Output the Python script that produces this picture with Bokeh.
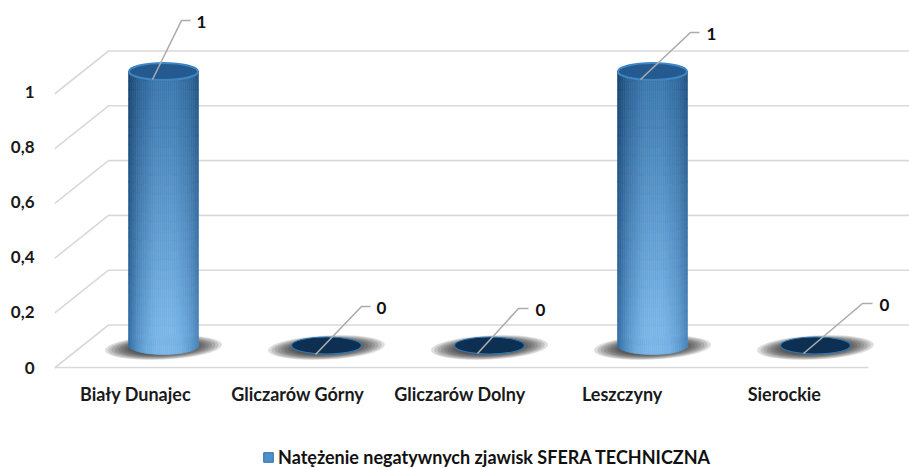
from bokeh.plotting import figure
from bokeh.embed import file_html
from bokeh.resources import INLINE
from bokeh.models import Range1d, LinearAxis, FixedTicker, Legend, LegendItem
from bokeh.core.properties import value

categories = ["Biały Dunajec", "Gliczarów Górny", "Gliczarów Dolny", "Leszczyny", "Sierockie"]
values = [1, 0, 0, 1, 0]
tick_values = [0, 0.2, 0.4, 0.6, 0.8, 1]
tick_labels = ["0", "0,2", "0,4", "0,6", "0,8", "1"]
series_name = "Natężenie negatywnych zjawisk SFERA TECHNICZNA"

FONT = "Lato"
W, H = 909, 468
X0, XSTEP = 163.0, 163.0     # x of first category, spacing
Y0, YUNIT = 345.0, 274.0     # y of the cylinder base, pixels per unit of value
FL, FR, FT, FB = 54, W, 0, H
FLOOR = 367

px = lambda x: (x - X0) / XSTEP
py = lambda y: (Y0 - y) / YUNIT

p = figure(width=W, height=H, output_backend="svg", toolbar_location=None,
           x_range=Range1d(px(FL), px(FR)), y_range=Range1d(py(FB), py(FT)),
           x_axis_location=None, y_axis_location=None,
           min_border_left=FL, min_border_right=0, min_border_top=0,
           min_border_bottom=0, outline_line_color=None,
           background_fill_color="white", border_fill_color="white")
p.grid.visible = False

p.extra_y_ranges["front"] = Range1d((FLOOR - FB) / 275.5, (FLOOR - FT) / 275.5)
ya = LinearAxis(y_range_name="front", ticker=FixedTicker(ticks=tick_values),
                major_label_overrides=dict(zip(tick_values, tick_labels)))
ya.axis_line_color = None
ya.major_tick_line_color = None
ya.minor_tick_line_color = None
ya.major_label_text_font = FONT
ya.major_label_text_font_style = "bold"
ya.major_label_text_color = "#1a1a1a"
ya.major_label_text_font_size = "17px"
ya.major_label_standoff = 14
p.add_layout(ya, "left")

GRID = "#d9d9d9"
back = (Y0 - 324.5) / YUNIT
front_dx, front_dy = 54, 43
xs, ys = [], []
for v in tick_values:
    yb = v + back
    xs.append([px(FL), px(FL + front_dx), px(FR)])
    ys.append([yb - front_dy / YUNIT, yb, yb])
xs.append([px(FL), px(868)])
ys.append([py(FLOOR), py(FLOOR)])
p.multi_line(xs, ys, line_color=GRID, line_width=1.6)

for i, v in enumerate(values):
    steps = 9
    for s in range(steps):
        f = 1 - s / steps * 0.5
        p.ellipse(x=i, y=py(347), width=117 * f, height=24 * f, width_units="screen",
                  height_units="screen", angle=0.05, fill_color="#222222",
                  fill_alpha=0.15, line_color=None)

def mix(a, b, k):
    return tuple(a[j] + (b[j] - a[j]) * k for j in range(3))

def hexc(c):
    return "#%02x%02x%02x" % tuple(int(round(q)) for q in c)

RX, RY = 35, 9
NC, NR = 36, 30
for i, v in enumerate(values):
    if v > 0:
        L, R, B, T, C = [], [], [], [], []
        for c in range(NC):
            u0, u1 = -1 + 2 * c / NC, -1 + 2 * (c + 1) / NC
            um = (u0 + u1) / 2
            arc = -RY * (1 - um * um) ** 0.5 / YUNIT
            for r in range(NR):
                t0, t1 = r / NR, (r + 1) / NR
                tm = (t0 + t1) / 2
                centre = mix((128, 188, 238), (58, 118, 172), tm)
                edge = mix((48, 108, 165), (22, 66, 110), tm)
                k = (abs(um - 0.08) / 1.08) ** 2.4
                col = mix(centre, edge, k)
                L.append(i + u0 * RX / XSTEP)
                R.append(i + u1 * RX / XSTEP)
                B.append(t0 * v + arc * (1 - t0))
                T.append(t1 * v + arc * (1 - t1))
                C.append(hexc(col))
        p.quad(left=L, right=R, bottom=B, top=T, fill_color=C, line_color=C, line_width=0.6)
        p.ellipse(x=i, y=v, width=2 * RX - 1, height=2 * RY - 1, width_units="screen",
                  height_units="screen", fill_color="#245a8f", line_color="#3f86c2", line_width=2)
    else:
        p.ellipse(x=i, y=0, width=2 * RX, height=2 * RY - 1, width_units="screen",
                  height_units="screen", fill_color="#0d2f52", line_color="#2f78b4", line_width=1.2)

leader_start = [(152, 79), (315, 354), (477, 353), (640, 79), (803, 353)]
leader_bend = [(181, 20), (361, 306), (518, 308), (690, 32), (862, 303)]
leader_end = [190, 370, 528, 699, 872]
label_x = [201, 381, 540, 711, 884]
lx, ly = [], []
for s, b, e in zip(leader_start, leader_bend, leader_end):
    lx.append([px(s[0]), px(b[0]), px(e)])
    ly.append([py(s[1]), py(b[1]), py(b[1])])
p.multi_line(lx, ly, line_color="#ababab", line_width=1.6)
p.text(x=[px(a) for a in label_x], y=[py(b[1] + 1) for b in leader_bend], text=[str(v) for v in values],
       text_font=value(FONT), text_font_style="bold", text_font_size="17px",
       text_color="#111111", text_align="center", text_baseline="middle")

# category labels
p.text(x=[px(135 + 162.2 * i) for i in range(len(categories))], y=[py(393)] * len(categories),
       text=categories, text_font=value(FONT), text_font_style="bold", text_font_size="18px",
       text_color="#1a1a1a", text_align="center", text_baseline="middle")

# legend swatch: a renderer outside the visible window only feeds the legend glyph
swatch = p.quad(left=[-9], right=[-8.9], bottom=[-9], top=[-8.9],
                fill_color="#4f8fcc", line_color="#2f6ea8")
legend = Legend(items=[LegendItem(label=series_name, renderers=[swatch])],
                location=(262 - FL, 0), orientation="horizontal",
                background_fill_alpha=0, border_line_color=None, padding=0, margin=0,
                glyph_width=12, glyph_height=12, label_standoff=4, label_height=12,
                label_text_font=FONT, label_text_font_style="bold", label_text_font_size="18px",
                label_text_color="#111111")
p.add_layout(legend, "center")

open("out.html", "w").write(file_html(p, INLINE))
